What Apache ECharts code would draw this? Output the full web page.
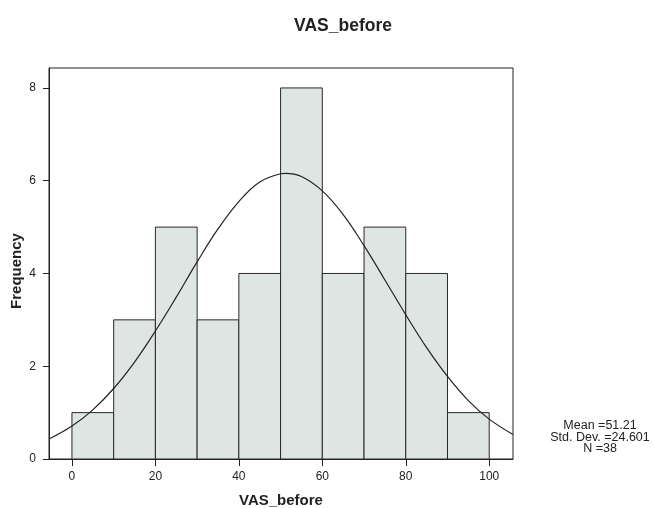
<!DOCTYPE html>
<html><head><meta charset="utf-8">
<script src="https://cdn.jsdelivr.net/npm/echarts@6/dist/echarts.min.js"></script>
<style>html,body{margin:0;padding:0;background:#fff}#c{width:654px;height:508px}</style>
</head><body><div id="c"></div>
<script>
const binStarts = [0,10,20,30,40,50,60,70,80,90];
const binEnds = [10,20,30,40,50,60,70,80,90,100];
const counts = [1,3,5,3,4,8,4,5,4,1];
const curveX = [-5.5,0,5,10,15,20,25,30,35,40,45,50,51.21,55,60,65,70,75,80,85,90,95,100,105.7];
const curveY = [0.43,0.71,1.06,1.52,2.09,2.76,3.49,4.25,4.96,5.55,5.97,6.15,6.16,6.09,5.78,5.27,4.60,3.86,3.11,2.40,1.78,1.26,0.86,0.53];
const xTicks = [0,20,40,60,80,100];
const yTicks = [0,2,4,6,8];
const statLines = ['Mean =51.21','Std. Dev. =24.601','N =38'];

const chart = echarts.init(document.getElementById('c'), null, {renderer:'canvas'});
const font = 'Liberation Sans, Arial, sans-serif';
chart.setOption({
  animation:false,
  backgroundColor:'#fff',
  title:{text:'VAS_before', left:338, top:12, textAlign:'center',
    textStyle:{fontFamily:font, fontSize:17.5, fontWeight:'bold', color:'#222'}},
  grid:{left:49, right:141, top:68, bottom:49, outerBoundsMode:'none', containLabel:false,
    show:true, borderColor:'#222', borderWidth:1, backgroundColor:'#fff'},
  xAxis:{type:'value', min:-5.5, max:105.7, interval:20,
    name:'VAS_before', nameLocation:'middle', nameGap:34,
    nameTextStyle:{fontFamily:font, fontSize:15, fontWeight:'bold', color:'#222'},
    axisLine:{show:true, onZero:false, lineStyle:{color:'#222'}},
    axisTick:{show:true, length:7, lineStyle:{color:'#222'}, customValues:xTicks},
    axisLabel:{fontFamily:font, fontSize:12, color:'#222', margin:12, customValues:xTicks},
    splitLine:{show:false}},
  yAxis:{type:'value', min:0, max:8.43,
    axisLine:{show:true, onZero:false, lineStyle:{color:'#222'}},
    axisTick:{show:true, length:6, lineStyle:{color:'#222'}, customValues:yTicks},
    axisLabel:{fontFamily:font, fontSize:12, color:'#222', margin:13, customValues:yTicks},
    splitLine:{show:false}},
  series:[
    {type:'custom',
     data: counts.map((c,i)=>[binStarts[i], binEnds[i], c]),
     encode:{x:[0,1], y:2},
     renderItem:function(params, api){
       const p0 = api.coord([api.value(0), 0]);
       const p1 = api.coord([api.value(1), api.value(2)]);
       return {type:'rect', shape:{x:p0[0], y:p1[1], width:p1[0]-p0[0], height:p0[1]-p1[1]},
         style:{fill:'#dfe5e3', stroke:'#2a2a2a', lineWidth:1}};
     }, z:2},
    {type:'line', data: curveX.map((x,i)=>[x, curveY[i]]), smooth:0.4, symbol:'none',
     lineStyle:{color:'#222', width:1.2}, z:3}
  ],
  graphic:[
    {type:'text', x:600, y:420, style:{text:statLines.join('\n'), textAlign:'center',
      font:'12.5px Liberation Sans, Arial, sans-serif', fill:'#222', lineHeight:11.5}},
    {type:'text', x:17, y:271, rotation:Math.PI/2, style:{text:'Frequency', textAlign:'center',
      textVerticalAlign:'middle', font:'bold 15px Liberation Sans, Arial, sans-serif', fill:'#222'}}
  ]
});
</script></body></html>
